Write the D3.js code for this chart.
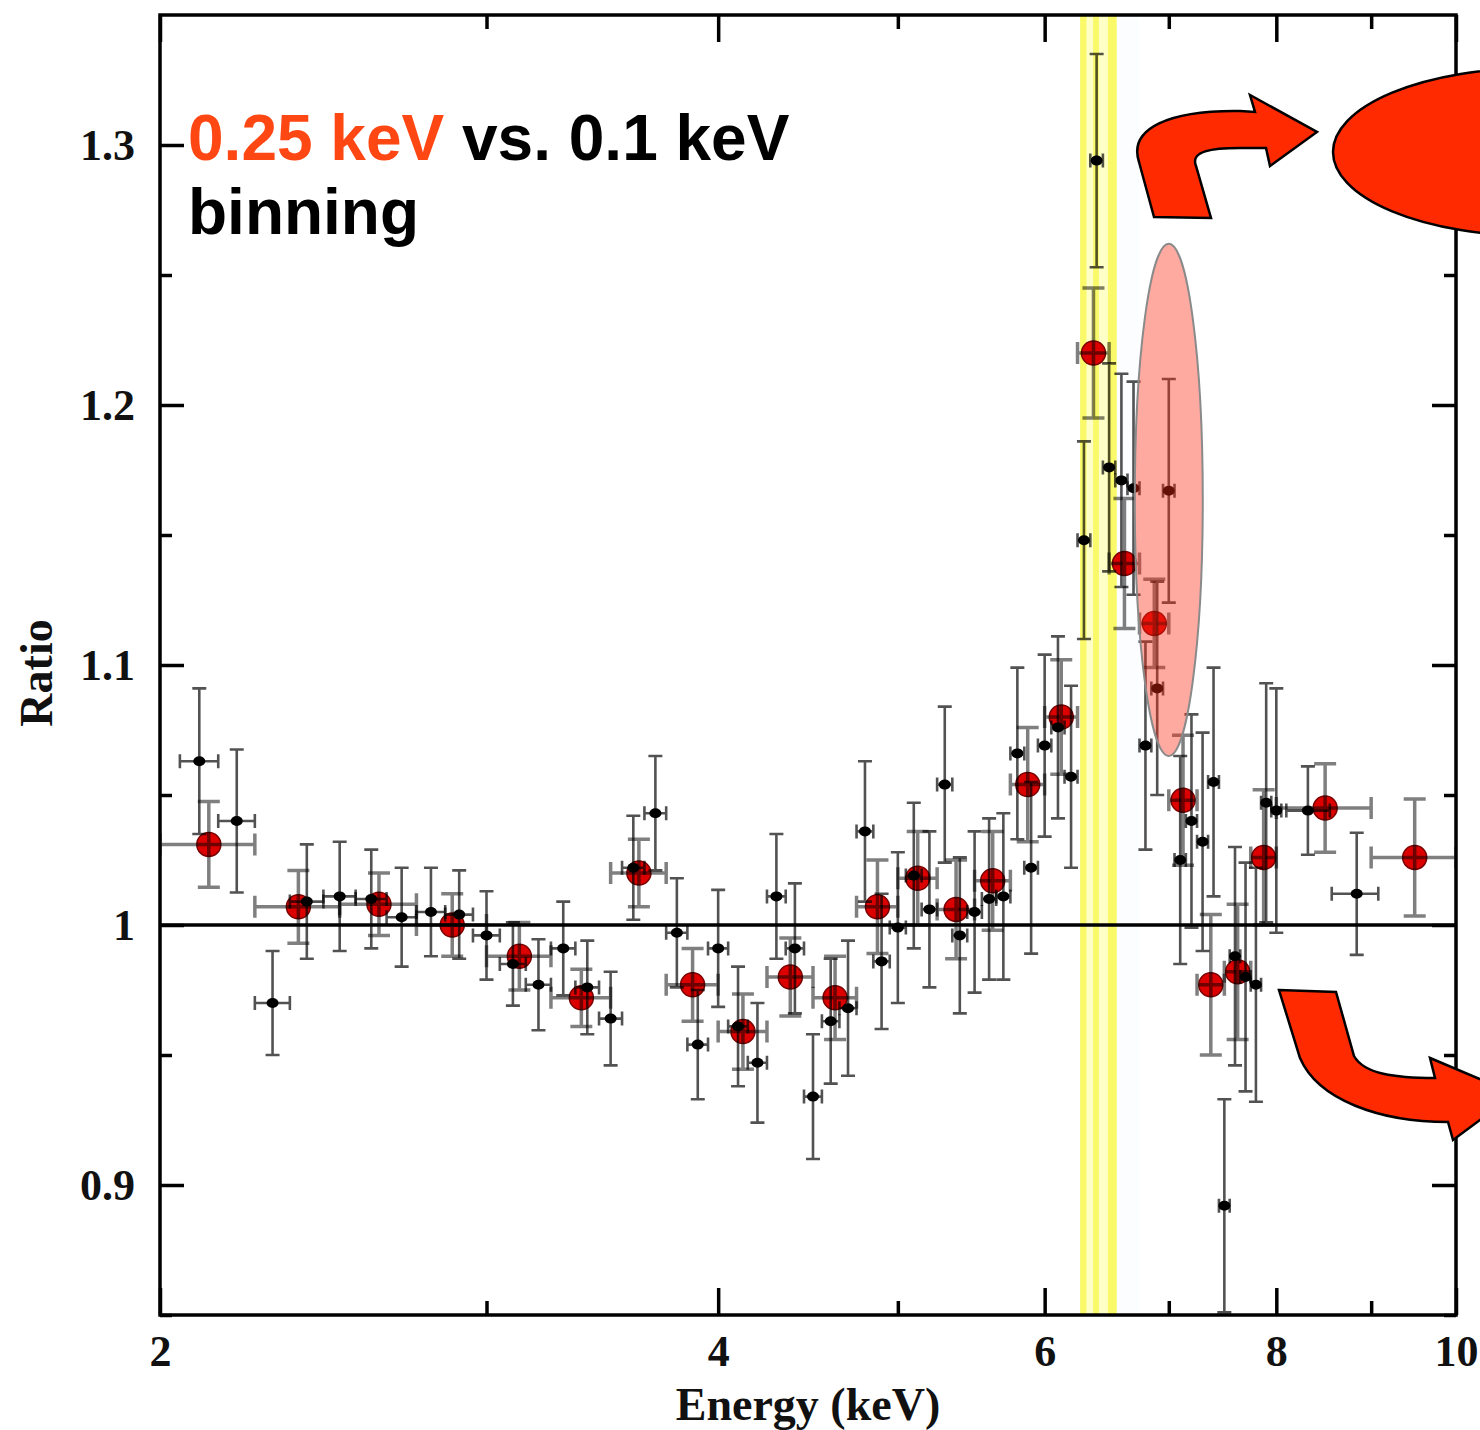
<!DOCTYPE html>
<html>
<head>
<meta charset="utf-8">
<script src="https://cdn.jsdelivr.net/npm/d3@7"></script>
<style>
  body { margin: 0; background: #fff; }
</style>
</head>
<body>
<div id="chart"></div>
<script>
const width = 1480;
const height = 1430;
const margin = {top: 15, right: 24, bottom: 115, left: 160};

// 0.25 keV binning (red)
const redLo = [2.0, 2.25, 2.5, 2.75, 3.0, 3.25, 3.5, 3.75, 4.0, 4.25, 4.5, 4.75, 5.0,
  5.25, 5.5, 5.75, 6.0, 6.25, 6.5, 6.75, 7.0, 7.25, 7.5, 7.75, 8.0, 9.0];
const redHi = [2.25, 2.5, 2.75, 3.0, 3.25, 3.5, 3.75, 4.0, 4.25, 4.5, 4.75, 5.0, 5.25,
  5.5, 5.75, 6.0, 6.25, 6.5, 6.75, 7.0, 7.25, 7.5, 7.75, 8.0, 9.0, 10.0];
const redE = [2.125, 2.375, 2.625, 2.875, 3.125, 3.375, 3.625, 3.875, 4.125, 4.375, 4.625,
  4.875, 5.125, 5.375, 5.625, 5.875, 6.125, 6.375, 6.625, 6.875, 7.125, 7.375, 7.625,
  7.875, 8.5, 9.5];
const redRatio = [1.031, 1.007, 1.008, 1.000, 0.988, 0.972, 1.020, 0.977, 0.959, 0.980,
  0.972, 1.007, 1.018, 1.006, 1.017, 1.054, 1.080, 1.220, 1.139, 1.116, 1.048, 0.977,
  0.982, 1.026, 1.045, 1.026];
const redErr = [0.0165, 0.014, 0.012, 0.012, 0.013, 0.011, 0.013, 0.014, 0.0145, 0.015,
  0.016, 0.018, 0.018, 0.019, 0.019, 0.022, 0.022, 0.025, 0.025, 0.017, 0.025, 0.027,
  0.026, 0.026, 0.017, 0.0225];

// 0.1 keV binning (black)
const blackE = [2.1, 2.2, 2.3, 2.4, 2.5, 2.6, 2.7, 2.8, 2.9, 3.0, 3.1, 3.2, 3.3, 3.4, 3.5,
  3.6, 3.7, 3.8, 3.9, 4.0, 4.1, 4.2, 4.3, 4.4, 4.5, 4.6, 4.7, 4.8, 4.9, 5.0, 5.1, 5.2,
  5.3, 5.4, 5.5, 5.6, 5.7, 5.8, 5.9, 6.0, 6.1, 6.2, 6.3, 6.4, 6.5, 6.6, 6.7, 6.8, 6.9,
  7.0, 7.1, 7.2, 7.3, 7.4, 7.5, 7.6, 7.7, 7.8, 7.9, 8.0, 8.32, 8.84];
const blackLo = [2.05, 2.15, 2.25, 2.35, 2.45, 2.55, 2.65, 2.75, 2.85, 2.95, 3.05, 3.15,
  3.25, 3.35, 3.45, 3.55, 3.65, 3.75, 3.85, 3.95, 4.05, 4.15, 4.25, 4.35, 4.45, 4.55,
  4.65, 4.75, 4.85, 4.95, 5.05, 5.15, 5.25, 5.35, 5.45, 5.55, 5.65, 5.75, 5.85, 5.95,
  6.05, 6.15, 6.25, 6.35, 6.45, 6.55, 6.65, 6.75, 6.85, 6.95, 7.05, 7.15, 7.25, 7.35,
  7.45, 7.55, 7.65, 7.75, 7.85, 7.95, 8.1, 8.57];
const blackHi = [2.15, 2.25, 2.35, 2.45, 2.55, 2.65, 2.75, 2.85, 2.95, 3.05, 3.15, 3.25,
  3.35, 3.45, 3.55, 3.65, 3.75, 3.85, 3.95, 4.05, 4.15, 4.25, 4.35, 4.45, 4.55, 4.65,
  4.75, 4.85, 4.95, 5.05, 5.15, 5.25, 5.35, 5.45, 5.55, 5.65, 5.75, 5.85, 5.95, 6.05,
  6.15, 6.25, 6.35, 6.45, 6.55, 6.65, 6.75, 6.85, 6.95, 7.05, 7.15, 7.25, 7.35, 7.45,
  7.55, 7.65, 7.75, 7.85, 7.95, 8.05, 8.55, 9.08];
const blackRatio = [1.063, 1.040, 0.970, 1.009, 1.011, 1.010, 1.003, 1.005, 1.004, 0.996,
  0.985, 0.977, 0.991, 0.976, 0.964, 1.022, 1.043, 0.997, 0.954, 0.991, 0.961, 0.947,
  1.011, 0.991, 0.934, 0.963, 0.968, 1.036, 0.986, 0.999, 1.019, 1.006, 1.054, 0.996,
  1.005, 1.010, 1.011, 1.066, 1.022, 1.069, 1.076, 1.057, 1.148, 1.294, 1.176, 1.171,
  1.168, 1.069, 1.091, 1.167, 1.025, 1.040, 1.032, 1.055, 0.892, 0.988, 0.980, 0.977,
  1.047, 1.044, 1.044, 1.012];
const blackErr = [0.028, 0.0275, 0.020, 0.022, 0.021, 0.019, 0.019, 0.017, 0.017, 0.017,
  0.016, 0.0175, 0.018, 0.018, 0.018, 0.020, 0.022, 0.021, 0.021, 0.0225, 0.023, 0.023,
  0.024, 0.025, 0.024, 0.024, 0.026, 0.027, 0.026, 0.029, 0.028, 0.030, 0.030, 0.030,
  0.031, 0.031, 0.032, 0.033, 0.033, 0.035, 0.035, 0.035, 0.038, 0.041, 0.040, 0.041,
  0.041, 0.040, 0.041, 0.043, 0.040, 0.041, 0.042, 0.044, 0.041, 0.042, 0.044, 0.045,
  0.046, 0.047, 0.017, 0.0235];

// Fe K band (keV)
const bandRange = [6.27, 6.565];
const bandStripes = [[6.27, 6.32], [6.372, 6.418], [6.49, 6.56]];

const xMajor = [2, 4, 6, 8, 10];
const xMinor = [3, 5, 7, 9];
const yMajor = [0.9, 1.0, 1.1, 1.2, 1.3];
const yMinor = [0.85, 0.95, 1.05, 1.15, 1.25];

const x = d3.scaleLog().domain([2, 10]).range([margin.left, width - margin.right]);
const y = d3.scaleLinear().domain([0.85, 1.35]).range([height - margin.bottom, margin.top]);

const red = redE.map((e, i) => ({e, lo: redLo[i], hi: redHi[i], r: redRatio[i], err: redErr[i]}));
const black = blackE.map((e, i) => ({e, lo: blackLo[i], hi: blackHi[i], r: blackRatio[i], err: blackErr[i]}));

const svg = d3.select("#chart").append("svg")
  .attr("width", width)
  .attr("height", height)
  .attr("viewBox", [0, 0, width, height]);

svg.append("defs").append("clipPath").attr("id", "plot")
  .append("rect")
  .attr("x", margin.left).attr("y", margin.top)
  .attr("width", width - margin.left - margin.right)
  .attr("height", height - margin.top - margin.bottom);

const plot = svg.append("g").attr("clip-path", "url(#plot)");

// yellow band around 6.4 keV
plot.append("rect")
  .attr("x", x(bandRange[0]))
  .attr("y", margin.top)
  .attr("width", x(bandRange[1]) - x(bandRange[0]))
  .attr("height", height - margin.top - margin.bottom)
  .attr("fill", "#ffffc8");
plot.append("rect")
  .attr("x", x(bandRange[1]))
  .attr("y", margin.top)
  .attr("width", 22)
  .attr("height", height - margin.top - margin.bottom)
  .attr("fill", "#fbfdff");
plot.selectAll("rect.stripe")
  .data(bandStripes)
  .join("rect")
  .attr("class", "stripe")
  .attr("x", d => x(d[0]))
  .attr("y", margin.top)
  .attr("width", d => x(d[1]) - x(d[0]))
  .attr("height", height - margin.top - margin.bottom)
  .attr("fill", "#f9f96a");

function errorBars(g, data, color, opacity, width, cap) {
  const eb = g.append("g")
    .attr("stroke", color)
    .attr("stroke-opacity", opacity)
    .attr("stroke-width", width)
    .attr("fill", "none");
  data.forEach(d => {
    const cx = x(d.e), cy = y(d.r);
    const y1 = y(d.r + d.err), y2 = y(d.r - d.err);
    const x1 = x(d.lo), x2 = x(d.hi);
    eb.append("path").attr("d",
      `M${cx},${y1}V${y2}` +
      `M${cx - cap},${y1}H${cx + cap}M${cx - cap},${y2}H${cx + cap}` +
      `M${x1},${cy}H${x2}` +
      `M${x1},${cy - cap}V${cy + cap}M${x2},${cy - cap}V${cy + cap}`);
  });
}

// red points
plot.append("g")
  .selectAll("circle")
  .data(red)
  .join("circle")
  .attr("cx", d => x(d.e))
  .attr("cy", d => y(d.r))
  .attr("r", 12)
  .attr("fill", "#dc0000")
  .attr("stroke", "#7a0000")
  .attr("stroke-width", 1.5);
errorBars(plot, red, "#000", 0.5, 3.5, 11);

// black points
errorBars(plot, black, "#000", 0.68, 2.6, 7);
plot.append("g")
  .selectAll("ellipse")
  .data(black)
  .join("ellipse")
  .attr("cx", d => x(d.e))
  .attr("cy", d => y(d.r))
  .attr("rx", 6)
  .attr("ry", 5)
  .attr("fill", "#000");

// ratio = 1
plot.append("line")
  .attr("x1", margin.left).attr("x2", width - margin.right)
  .attr("y1", y(1)).attr("y2", y(1))
  .attr("stroke", "#000")
  .attr("stroke-width", 3.5);

// frame
svg.append("rect")
  .attr("x", margin.left).attr("y", margin.top)
  .attr("width", width - margin.left - margin.right)
  .attr("height", height - margin.top - margin.bottom)
  .attr("fill", "none")
  .attr("stroke", "#000")
  .attr("stroke-width", 3.5);

const tickFont = "'Liberation Serif', 'Times New Roman', serif";

function styleAxis(g) {
  g.select(".domain").remove();
  g.selectAll(".tick line").attr("stroke", "#000").attr("stroke-width", 3.5);
  g.selectAll(".tick text")
    .attr("font-family", tickFont)
    .attr("font-weight", "bold")
    .attr("font-size", 44)
    .attr("fill", "#111");
}

const xb = height - margin.bottom, xt = margin.top;
const yl = margin.left, yr = width - margin.right;

svg.append("g").attr("transform", `translate(0,${xb})`)
  .call(d3.axisBottom(x).tickValues(xMajor).tickFormat(d3.format("d")).tickSizeInner(-27).tickPadding(20))
  .call(styleAxis);
svg.append("g").attr("transform", `translate(0,${xb})`)
  .call(d3.axisBottom(x).tickValues(xMinor).tickFormat("").tickSizeInner(-14))
  .call(styleAxis);
svg.append("g").attr("transform", `translate(0,${xt})`)
  .call(d3.axisTop(x).tickValues(xMajor).tickFormat("").tickSizeInner(-27))
  .call(styleAxis);
svg.append("g").attr("transform", `translate(0,${xt})`)
  .call(d3.axisTop(x).tickValues(xMinor).tickFormat("").tickSizeInner(-14))
  .call(styleAxis);

svg.append("g").attr("transform", `translate(${yl},0)`)
  .call(d3.axisLeft(y).tickValues(yMajor).tickFormat(d => d === 1 ? "1" : d3.format(".1f")(d)).tickSizeInner(-24).tickPadding(25))
  .call(styleAxis);
svg.append("g").attr("transform", `translate(${yl},0)`)
  .call(d3.axisLeft(y).tickValues(yMinor).tickFormat("").tickSizeInner(-12))
  .call(styleAxis);
svg.append("g").attr("transform", `translate(${yr},0)`)
  .call(d3.axisRight(y).tickValues(yMajor).tickFormat("").tickSizeInner(-24))
  .call(styleAxis);
svg.append("g").attr("transform", `translate(${yr},0)`)
  .call(d3.axisRight(y).tickValues(yMinor).tickFormat("").tickSizeInner(-12))
  .call(styleAxis);

// axis titles
svg.append("text")
  .attr("x", 808).attr("y", 1420)
  .attr("text-anchor", "middle")
  .attr("font-family", tickFont)
  .attr("font-weight", "bold")
  .attr("font-size", 46)
  .attr("fill", "#111")
  .text("Energy (keV)");

svg.append("text")
  .attr("transform", "translate(52,673) rotate(-90)")
  .attr("text-anchor", "middle")
  .attr("font-family", tickFont)
  .attr("font-weight", "bold")
  .attr("font-size", 46)
  .attr("fill", "#111")
  .text("Ratio");

// annotation: binning label
const label = svg.append("text")
  .attr("x", 188).attr("y", 160)
  .attr("font-family", "'Liberation Sans', Arial, sans-serif")
  .attr("font-weight", "bold")
  .attr("font-size", 64);
label.append("tspan").attr("fill", "#ff4714").text("0.25 keV");
label.append("tspan").attr("fill", "#000").text(" vs. 0.1 keV");
svg.append("text")
  .attr("x", 188).attr("y", 234)
  .attr("font-family", "'Liberation Sans', Arial, sans-serif")
  .attr("font-weight", "bold")
  .attr("font-size", 64)
  .attr("fill", "#000")
  .text("binning");

// highlighted region around 7 keV
svg.append("ellipse")
  .attr("cx", x(7.0))
  .attr("cy", y(1.1635))
  .attr("rx", 34)
  .attr("ry", y(1.065) - y(1.1635))
  .attr("fill", "#ff2a14")
  .attr("fill-opacity", 0.4)
  .attr("stroke", "#8a8a8a")
  .attr("stroke-width", 2);

// callout shapes
const arrowRed = "#ff2a00";
svg.append("ellipse")
  .attr("cx", 1535).attr("cy", 152)
  .attr("rx", 202).attr("ry", 84)
  .attr("fill", arrowRed)
  .attr("stroke", "#000")
  .attr("stroke-width", 2.5);

svg.append("path")
  .attr("d", "M1154,217 L1139,162 C1128,128 1170,110 1240,111 L1255,112 L1250,95 L1317,132 L1270,166 L1266,148 L1240,148 C1212,148 1190,151 1196,166 L1211,218 Z")
  .attr("fill", arrowRed)
  .attr("stroke", "#000")
  .attr("stroke-width", 2.5)
  .attr("stroke-linejoin", "miter");

svg.append("path")
  .attr("d", "M1279,990 L1336,992 L1354,1056 C1364,1074 1395,1078 1435,1078 L1430,1058 L1515,1094 L1453,1140 L1448,1122 C1380,1122 1318,1100 1300,1058 Z")
  .attr("fill", arrowRed)
  .attr("stroke", "#000")
  .attr("stroke-width", 2.5);
</script>
</body>
</html>
